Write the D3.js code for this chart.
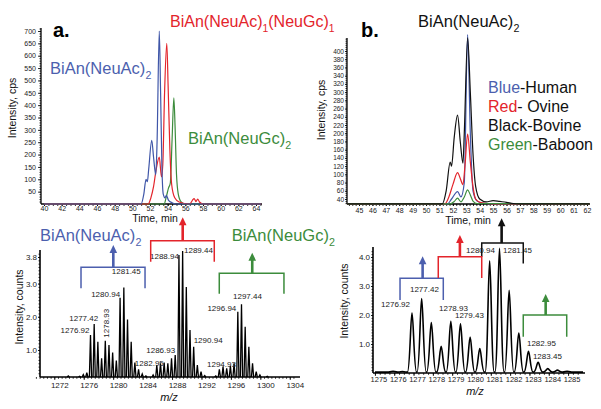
<!DOCTYPE html>
<html lang="en">
<head>
<meta charset="UTF-8">
<title>BiAn chromatograms and spectra</title>
<style>
  body { margin:0; background:#fff; }
  svg { display:block; font-family: "Liberation Sans", Arial, sans-serif; }
</style>
</head>
<body>
<svg id="fig" width="601" height="409"></svg>
<script src="https://d3js.org/d3.v7.min.js"></script>
<script>
// ---------- data: chromatogram a (time min, intensity cps)
var chromA_blue = [[40,0],[51.0,0],[51.3,40],[51.55,100],[51.7,90],[51.85,140],[52.2,258],[52.4,190],[52.65,118],[52.8,250],[53.05,700],[53.2,450],[53.35,150],[53.5,40],[53.7,25],[53.85,35],[54.1,15],[54.5,5],[55,0],[64.6,0]];
var chromA_red = [[40,0],[51.8,0],[52.1,25],[52.4,70],[52.7,140],[53.05,190],[53.3,110],[53.45,160],[53.65,450],[53.9,650],[54.05,480],[54.25,220],[54.45,80],[54.8,25],[55.3,8],[56.5,0],[56.8,15],[57.0,22],[57.2,10],[57.4,20],[57.6,8],[58,0],[64.6,0]];
var chromA_green = [[40,0],[53.6,0],[53.85,30],[54.1,65],[54.3,85],[54.5,260],[54.7,430],[54.85,300],[55.0,120],[55.2,40],[55.5,10],[56,0],[64.6,0]];
var ticksA_y = d3.range(50, 701, 50);
var ticksA_x = d3.range(40, 65, 2);

// ---------- data: chromatogram b
var chromB_blue = [[44.1,28],[51.6,28],[51.9,40],[52.35,58],[52.6,45],[52.85,80],[53.1,440],[53.3,200],[53.5,60],[53.8,35],[54.2,30],[55,28],[62.2,28]];
var chromB_red = [[44.1,28],[51.4,28],[51.7,45],[52.0,75],[52.35,104],[52.55,90],[52.75,75],[52.9,120],[53.1,198],[53.3,130],[53.5,70],[53.7,40],[54.0,32],[54.5,29],[55,28],[62.2,28]];
var chromB_green = [[44.1,28],[51.8,28],[52.1,34],[52.35,42],[52.6,33],[52.85,45],[53.1,62],[53.3,50],[53.5,35],[53.8,29],[62.2,28]];
var chromB_black = [[44.1,28],[51.2,28],[51.5,60],[51.8,130],[51.9,120],[52.1,190],[52.35,244],[52.55,180],[52.75,127],[52.85,200],[53.1,432],[53.3,300],[53.5,150],[53.7,70],[54.0,40],[54.5,33],[55,36],[55.5,34],[56,32],[56.5,29],[57,28],[62.2,28]];
var ticksB_y = d3.range(40, 401, 20);
var ticksB_x = d3.range(45, 63, 1);
var legendB = [["Blue","-Human","#4c5fae"],["Red","- Ovine","#e3242b"],["Black","-Bovine","#111"],["Green","-Baboon","#3c8c3c"]];

// ---------- data: mass spectrum a (m/z, intensity counts e6)
var specA = [[1273.9,0.22],[1275.44,0.21],[1275.94,0.26],[1276.42,0.32],[1276.92,1.45],[1277.42,1.78],[1277.92,1.25],[1278.43,0.75],[1278.93,1.28],[1279.43,1.15],[1279.93,0.92],[1280.43,0.68],[1280.94,2.57],[1281.45,2.88],[1281.95,1.92],[1282.45,1.25],[1282.95,0.62],[1283.45,0.42],[1283.95,0.28],[1284.45,0.22],
  [1285.43,0.25],[1285.93,0.55],[1286.43,0.6],[1286.93,0.62],[1287.43,0.6],[1287.93,0.75],[1288.43,0.85],[1288.94,3.86],[1289.44,3.98],[1289.94,2.9],[1290.44,1.6],[1290.94,1.1],[1291.44,0.55],[1291.94,0.35],[1292.44,0.23],
  [1293.94,0.22],[1294.43,0.42],[1294.93,0.5],[1295.43,0.45],[1295.93,0.52],[1296.43,0.6],[1296.94,2.15],[1297.44,2.38],[1297.94,1.7],[1298.44,1.1],[1298.94,0.6],[1299.44,0.35],[1299.94,0.25],[1300.94,0.21]];
var ticksSA_x = d3.range(1272, 1305, 4);
var ticksSA_y = [1.0, 2.0, 3.0, 3.8];
var labelsSA = ["1276.92","1277.42","1278.93","1280.94","1281.45","1282.95","1286.93","1288.94","1289.44","1290.94","1294.93","1296.94","1297.44"];

// ---------- data: mass spectrum b
var specB = [[1275.94,0.06],[1276.42,0.05],[1276.92,2.07],[1277.42,2.57],[1277.92,1.74],[1278.43,0.92],[1278.93,1.78],[1279.43,1.7],[1279.93,1.24],[1280.43,0.84],[1280.94,3.87],[1281.45,4.3],[1281.95,2.85],[1282.45,1.38],[1282.95,0.75],[1283.45,0.37],[1283.95,0.15],[1284.45,0.1],[1284.95,0.06]];
var ticksSB_x = d3.range(1275, 1286, 1);
var ticksSB_y = [1.0, 2.0, 3.0, 4.0];
var labelsSB = ["1276.92","1277.42","1278.93","1279.43","1280.94","1281.45","1282.95","1283.45"];

var BLUE = "#4c5fae", RED = "#e3242b", GREEN = "#3c8c3c", BLUE_LINE = "#3f56a8";

var svg = d3.select("#fig");
svg.append("rect").attr("width", 601).attr("height", 409).attr("fill", "#fff");

function axis(g, ax, fontSize, dx) {
  g.call(ax);
  g.select(".domain").remove();
  g.attr("font-family", null).attr("font-size", null);
  g.selectAll("line").attr("stroke", "#000").attr("stroke-width", 0.8);
  g.selectAll("text").attr("font-size", fontSize).attr("fill", "#222").attr("dx", dx || 0);
}
function hline(x1, x2, y, w) {
  svg.append("line").attr("x1", x1).attr("x2", x2).attr("y1", y).attr("y2", y).attr("stroke", "#000").attr("stroke-width", w);
}
function vline(x, y1, y2, w) {
  svg.append("line").attr("x1", x).attr("x2", x).attr("y1", y1).attr("y2", y2).attr("stroke", "#000").attr("stroke-width", w);
}
function rtext(x, y, s, size) {
  svg.append("text").attr("transform", "translate(" + x + "," + y + ") rotate(-90)")
    .attr("text-anchor", "middle").attr("font-size", size).attr("fill", "#111").text(s);
}
function chem(x, y, parts, color, size) {
  var t = svg.append("text").attr("x", x).attr("y", y).attr("font-size", size).attr("fill", color);
  parts.forEach(function(p, i) {
    var ts = t.append("tspan").text(p);
    if (i % 2 === 1) ts.attr("font-size", size * 0.65).attr("dy", size * 0.32);
    else if (i > 0) ts.attr("dy", -size * 0.32);
  });
}
function bracket(xs, ys, b, color) {
  var g = svg.append("g").attr("stroke", color).attr("fill", "none");
  var x0 = xs(b.x0), x1 = xs(b.x1), y = ys(b.y), ax = xs(b.ax), tip = ys(b.tip);
  g.append("path").attr("stroke-width", 1.5)
    .attr("d", "M" + x0 + "," + ys(b.dl) + "V" + y + "H" + x1 + "V" + ys(b.dr));
  g.append("line").attr("x1", ax).attr("x2", ax).attr("y1", y).attr("y2", tip + 6).attr("stroke-width", 2.6);
  g.append("path").attr("stroke", "none").attr("fill", color)
    .attr("d", "M" + (ax - 3.8) + "," + (tip + 8) + "L" + ax + "," + tip + "L" + (ax + 3.8) + "," + (tip + 8) + "Z");
}
var fmtInt = d3.format("d"), fmt1 = d3.format(".1f");

// ================= chromatogram a
var xA = d3.scaleLinear().domain([40, 64]).range([44, 256]);
var yA = d3.scaleLinear().domain([0, 700]).range([204, 31]);
axis(svg.append("g").attr("transform", "translate(41,0)"),
  d3.axisLeft(yA).tickValues(d3.range(10, 711, 10)).tickSize(1.5).tickFormat(""), 7);
axis(svg.append("g").attr("transform", "translate(41,0)"),
  d3.axisLeft(yA).tickValues(ticksA_y).tickSize(3).tickPadding(2).tickFormat(fmtInt), 7);
axis(svg.append("g").attr("transform", "translate(0,204)"),
  d3.axisBottom(xA).tickValues(d3.range(40, 64.6, 0.5)).tickSize(2).tickFormat(""), 7);
axis(svg.append("g").attr("transform", "translate(0,204)"),
  d3.axisBottom(xA).tickValues(ticksA_x).tickSize(2).tickPadding(0.5).tickFormat(fmtInt), 7);
vline(41, 28, 204, 1.3);
hline(41, 262, 204, 1.3);

var lineA = d3.line().x(function(d){ return xA(d[0]); }).y(function(d){ return yA(d[1]); }).curve(d3.curveMonotoneX);
[[chromA_green, GREEN], [chromA_red, RED], [chromA_blue, BLUE_LINE]].forEach(function(s) {
  svg.append("path").datum(s[0]).attr("d", lineA).attr("fill", "none").attr("stroke", s[1]).attr("stroke-width", 1.2);
});
svg.append("text").attr("x", 155).attr("y", 222).attr("text-anchor", "middle").attr("font-size", 10.5).attr("fill", "#111").text("Time, min");
rtext(16, 108, "Intensity, cps", 10.5);
svg.append("text").attr("x", 53).attr("y", 37).attr("font-size", 20).attr("font-weight", "bold").text("a.");
chem(50, 74, ["BiAn(NeuAc)", "2"], BLUE, 16.5);
chem(170, 27, ["BiAn(NeuAc)", "1", "(NeuGc)", "1"], RED, 16);
chem(188, 143.5, ["BiAn(NeuGc)", "2"], GREEN, 16.5);

// ================= chromatogram b
var xB = d3.scaleLinear().domain([45, 62]).range([359, 587]);
var yB = d3.scaleLinear().domain([40, 400]).range([199, 51]);
axis(svg.append("g").attr("transform", "translate(347,0)"),
  d3.axisLeft(yB).tickValues(d3.range(30, 431, 5)).tickSize(1.5).tickFormat(""), 6.5);
axis(svg.append("g").attr("transform", "translate(347,0)"),
  d3.axisLeft(yB).tickValues(ticksB_y).tickSize(2).tickPadding(1).tickFormat(fmtInt), 6.5);
axis(svg.append("g").attr("transform", "translate(0,204)"),
  d3.axisBottom(xB).tickValues(d3.range(44.25, 62.2, 0.25)).tickSize(2).tickFormat(""), 7);
axis(svg.append("g").attr("transform", "translate(0,204)"),
  d3.axisBottom(xB).tickValues(ticksB_x).tickSize(2).tickPadding(2).tickFormat(fmtInt), 7);
vline(347, 38, 204, 1.3);
hline(347, 590, 204, 1.3);

var lineB = d3.line().x(function(d){ return xB(d[0]); }).y(function(d){ return yB(d[1]); }).curve(d3.curveMonotoneX);
[[chromB_blue, BLUE_LINE], [chromB_red, RED], [chromB_green, GREEN], [chromB_black, "#111"]].forEach(function(s) {
  svg.append("path").datum(s[0]).attr("d", lineB).attr("fill", "none").attr("stroke", s[1]).attr("stroke-width", 1.2);
});
svg.append("text").attr("x", 468).attr("y", 224).attr("text-anchor", "middle").attr("font-size", 10.5).attr("fill", "#111").text("Time, min");
rtext(325, 110, "Intensity, cps", 10.5);
svg.append("text").attr("x", 361).attr("y", 37).attr("font-size", 20).attr("font-weight", "bold").text("b.");
chem(418, 27, ["BiAn(NeuAc)", "2"], "#111", 16.5);
legendB.forEach(function(d, i) {
  var t = svg.append("text").attr("x", 488).attr("y", 92.5 + i * 19.2).attr("font-size", 16);
  t.append("tspan").attr("fill", d[2]).text(d[0]);
  t.append("tspan").attr("fill", "#111").text(d[1]);
});

// ================= spectrum a
var xSa = d3.scaleLinear().domain([1276.92, 1297.44]).range([90.5, 241.5]);
var ySa = d3.scaleLinear().domain([0, 3.8]).range([383.2, 257]);
axis(svg.append("g").attr("transform", "translate(40,0)"),
  d3.axisLeft(ySa).tickValues(d3.range(0.3, 4.0, 0.1)).tickSize(1.5).tickFormat(""), 8);
axis(svg.append("g").attr("transform", "translate(40,0)"),
  d3.axisLeft(ySa).tickValues(ticksSA_y).tickSize(2).tickPadding(1).tickFormat(fmt1), 8);
axis(svg.append("g").attr("transform", "translate(0,377)"),
  d3.axisBottom(xSa).tickValues(d3.range(1269.5, 1305, 0.5)).tickSize(1.8).tickFormat(""), 8);
axis(svg.append("g").attr("transform", "translate(0,377)"),
  d3.axisBottom(xSa).tickValues(ticksSA_x).tickSize(3).tickPadding(2).tickFormat(fmtInt), 8, 5);
vline(40, 250, 377, 1.6);
hline(40, 300, 377, 1.6);

var pA = d3.path();
specA.forEach(function(d) {
  var x = xSa(d[0]);
  pA.moveTo(x - 1.1, 377); pA.lineTo(x, ySa(d[1])); pA.lineTo(x + 1.1, 377);
});
svg.append("path").attr("d", pA.toString()).attr("fill", "none").attr("stroke", "#000").attr("stroke-width", 1.3);

svg.append("text").attr("x", 169).attr("y", 401).attr("text-anchor", "middle").attr("font-size", 11).attr("font-style", "italic").attr("fill", "#111").text("m/z");
rtext(23, 307, "Intensity, counts", 10.5);

// label anchors for peak labels: anchor, dx from peak, baseline offset from peak top
var layoutSA = {
  "1276.92": ["end", -1, -2], "1277.42": ["end", 4, -3.5], "1280.94": ["end", 0, -1.2],
  "1281.45": ["start", -12, -13.6], "1282.95": ["start", 0, 3], "1286.93": ["end", 11, -9.3],
  "1288.94": ["end", 0, 4], "1289.44": ["start", 1.4, 1.7], "1290.94": ["start", 0, -4],
  "1294.93": ["start", -16, 0], "1296.94": ["end", -1.5, -1], "1297.44": ["start", -8.5, -5.2]
};
var peakMap = new Map(specA.map(function(d){ return [d[0].toFixed(2), d[1]]; }));
labelsSA.forEach(function(s) {
  var x = xSa(+s), y = ySa(peakMap.get(s));
  if (s === "1278.93") {
    svg.append("text").attr("transform", "translate(" + (x + 3.5) + "," + (y - 3) + ") rotate(-90)")
      .attr("font-size", 8).attr("fill", "#222").text(s);
    return;
  }
  var l = layoutSA[s];
  svg.append("text").attr("x", x + l[1]).attr("y", y + l[2]).attr("text-anchor", l[0])
    .attr("font-size", 8).attr("fill", "#222").text(s);
});

chem(40, 240.5, ["BiAn(NeuAc)", "2"], BLUE, 16.5);
chem(231.7, 240.5, ["BiAn(NeuGc)", "2"], GREEN, 16.5);
bracket(xSa, ySa, {x0:1275.63, x1:1284.33, y:3.49, dl:2.86, dr:2.86, ax:1280.02, tip:4.16}, BLUE);
bracket(xSa, ySa, {x0:1285.10, x1:1293.74, y:4.29, dl:3.66, dr:3.66, ax:1289.45, tip:5.0}, RED);
bracket(xSa, ySa, {x0:1294.42, x1:1303.21, y:3.31, dl:2.69, dr:2.69, ax:1298.9, tip:3.93}, GREEN);

// ================= spectrum b
var xSb = d3.scaleLinear().domain([1276.92, 1281.45]).range([412, 499.5]);
var ySb = d3.scaleLinear().domain([0, 4]).range([373, 257]);
axis(svg.append("g").attr("transform", "translate(373,0)"),
  d3.axisLeft(ySb).tickValues(d3.range(0.1, 4.3, 0.1)).tickSize(1.5).tickFormat(""), 8);
axis(svg.append("g").attr("transform", "translate(373,0)"),
  d3.axisLeft(ySb).tickValues(ticksSB_y).tickSize(2).tickPadding(1).tickFormat(fmt1), 8);
axis(svg.append("g").attr("transform", "translate(0,373)"),
  d3.axisBottom(xSb).tickValues(d3.range(1275, 1285.6, 0.25)).tickSize(1.8).tickFormat(""), 8);
axis(svg.append("g").attr("transform", "translate(0,373)"),
  d3.axisBottom(xSb).tickValues(ticksSB_x).tickSize(3).tickPadding(1).tickFormat(fmtInt), 7.5, 3.5);
vline(373, 247, 373, 1.6);
hline(373, 585, 373, 1.6);

var baseB = ySb(0.03), w = 4.6;
var pB = d3.path();
pB.moveTo(375, baseB);
specB.forEach(function(d) {
  var x = xSb(d[0]), y = ySb(d[1]);
  pB.lineTo(x - w, baseB);
  pB.bezierCurveTo(x - w * 0.45, baseB, x - w * 0.3, y, x, y);
  pB.bezierCurveTo(x + w * 0.3, y, x + w * 0.45, baseB, x + w, baseB);
});
pB.lineTo(583, baseB);
svg.append("path").attr("d", pB.toString()).attr("fill", "none").attr("stroke", "#000").attr("stroke-width", 1.6);

svg.append("text").attr("x", 475).attr("y", 395).attr("text-anchor", "middle").attr("font-size", 11).attr("font-style", "italic").attr("fill", "#111").text("m/z");
rtext(348, 301, "Intensity, counts", 10.5);

var layoutSB = {
  "1276.92": ["end", -2, -5.7], "1277.42": ["start", -11.7, -6.5], "1278.93": ["start", -11.8, -10.4],
  "1279.43": ["start", -5.5, -5.7], "1280.94": ["end", 5.3, -7.8], "1281.45": ["start", 3.5, 5],
  "1282.95": ["start", -1.5, -5], "1283.45": ["start", -5.2, -3.2]
};
var peakMapB = new Map(specB.map(function(d){ return [d[0].toFixed(2), d[1]]; }));
labelsSB.forEach(function(s) {
  var x = xSb(+s), y = ySb(peakMapB.get(s)), l = layoutSB[s];
  svg.append("text").attr("x", x + l[1]).attr("y", y + l[2]).attr("text-anchor", l[0])
    .attr("font-size", 8).attr("fill", "#222").text(s);
});

bracket(xSb, ySb, {x0:1276.30, x1:1278.54, y:3.27, dl:2.52, dr:2.52, ax:1277.47, tip:4.03}, BLUE);
bracket(xSb, ySb, {x0:1280.53, x1:1282.68, y:4.48, dl:4.01, dr:3.78, ax:1281.56, tip:5.34}, "#111");
bracket(xSb, ySb, {x0:1278.28, x1:1280.53, y:4.01, dl:3.28, dr:3.28, ax:1279.40, tip:4.76}, RED);
bracket(xSb, ySb, {x0:1282.68, x1:1284.93, y:2.0, dl:1.25, dr:1.25, ax:1283.84, tip:2.72}, GREEN);
</script>
</body>
</html>
